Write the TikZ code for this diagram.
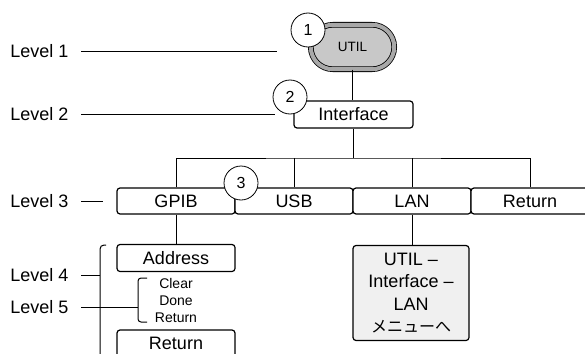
\documentclass[tikz,border=0pt]{standalone}
\usepackage{fontspec}
\setmainfont{Liberation Sans}
\newfontfamily\jpfont{Noto Sans CJK JP}
\usepackage{tikz}
\usetikzlibrary{positioning,calc}
\definecolor{uring}{HTML}{A8A8A8}
\definecolor{ufill}{HTML}{C8C8C8}
\definecolor{mfill}{HTML}{F0F0F0}

\begin{document}
\begin{tikzpicture}[x=1pt,y=-1pt,line width=1pt,
    menubox/.style={draw,fill=white,rounded corners=3pt,minimum width=118pt,
      minimum height=26pt,inner sep=0pt,line width=1.2pt,
      font=\fontsize{18}{22}\selectfont},
    num/.style={draw,circle,fill=white,minimum size=34pt,inner sep=0pt,
      line width=0.8pt,font=\fontsize{16}{16}\selectfont},
    lvl/.style={anchor=east,inner sep=0pt,font=\fontsize{18}{22}\selectfont}]
  \useasboundingbox (0,0) rectangle (585,353);
  \clip (0,0) rectangle (585,353);

  % Level 1: UTIL key
  \node[draw,double=uring,double distance=4pt,line width=0.8pt,fill=ufill,
    rounded corners=22pt,minimum width=83.4pt,minimum height=44.4pt,
    font=\fontsize{13.5}{14}\selectfont] (util) at (352.5,47) {UTIL};
  % Level 2
  \node[menubox,minimum width=119pt,minimum height=27pt] (interface)
    at (353.5,114.5) {Interface};
  \draw (util.south) -- (util.south |- interface.north);

  % Level 3 boxes
  \foreach \n/\t [count=\i] in {gpib/GPIB,usb/USB,lan/LAN,ret/Return}
    \node[menubox] (\n) at (176+118*\i-118,201) {\t};
  \coordinate (bus) at (353.5,158);
  \draw (interface.south) -- (bus);
  \draw (gpib.north) |- (bus) -| (ret.north);
  \foreach \n in {usb,lan}
    \draw (\n.north) -- (\n.north |- bus);

  % Level 4/5 under GPIB
  \node[menubox,minimum height=27pt] (address) at (176,258) {Address};
  \draw (gpib.south) -- (address.north);
  \node[align=center,inner sep=0pt,font=\fontsize{14}{17}\selectfont] (sub)
    at (176,300) {Clear\\Done\\Return};
  \node[menubox,minimum height=27pt] (ret4) at (176,343.5) {Return};

  % LAN goes on to its own menu
  \node[draw,fill=mfill,rounded corners=3pt,line width=1.2pt,minimum width=116pt,
    minimum height=95pt,align=center,font=\fontsize{18}{22.5}\selectfont]
    (lanmenu) at (411,293)
    {UTIL –\\Interface –\\LAN\\{\jpfont\fontsize{16}{22.5}\selectfont メニューへ}};
  \draw (lan.south) -- (lan.south |- lanmenu.north);

  % brackets
  \draw[rounded corners=4pt] (106,245) -- (100,245) -- (100,360);
  \draw[rounded corners=3pt] (147,278) -- (138,278) -- (138,322) -- (147,322);

  % level labels
  \foreach \i/\y/\e in {1/51/277,2/114/275,3/201/103,4/275/100,5/307/138} {
    \node[lvl] (lv\i) at (69,\y) {Level \i};
    \coordinate (le\i) at (\e,\y);
    \draw ([xshift=12pt]lv\i.east) -- (le\i);
  }

  % step numbers
  \node[num] (n1) at (308,30) {1};
  \node[num] (n2) at (290,97) {2};
  \node[num] (n3) at (241,183) {3};
\end{tikzpicture}
\end{document}
